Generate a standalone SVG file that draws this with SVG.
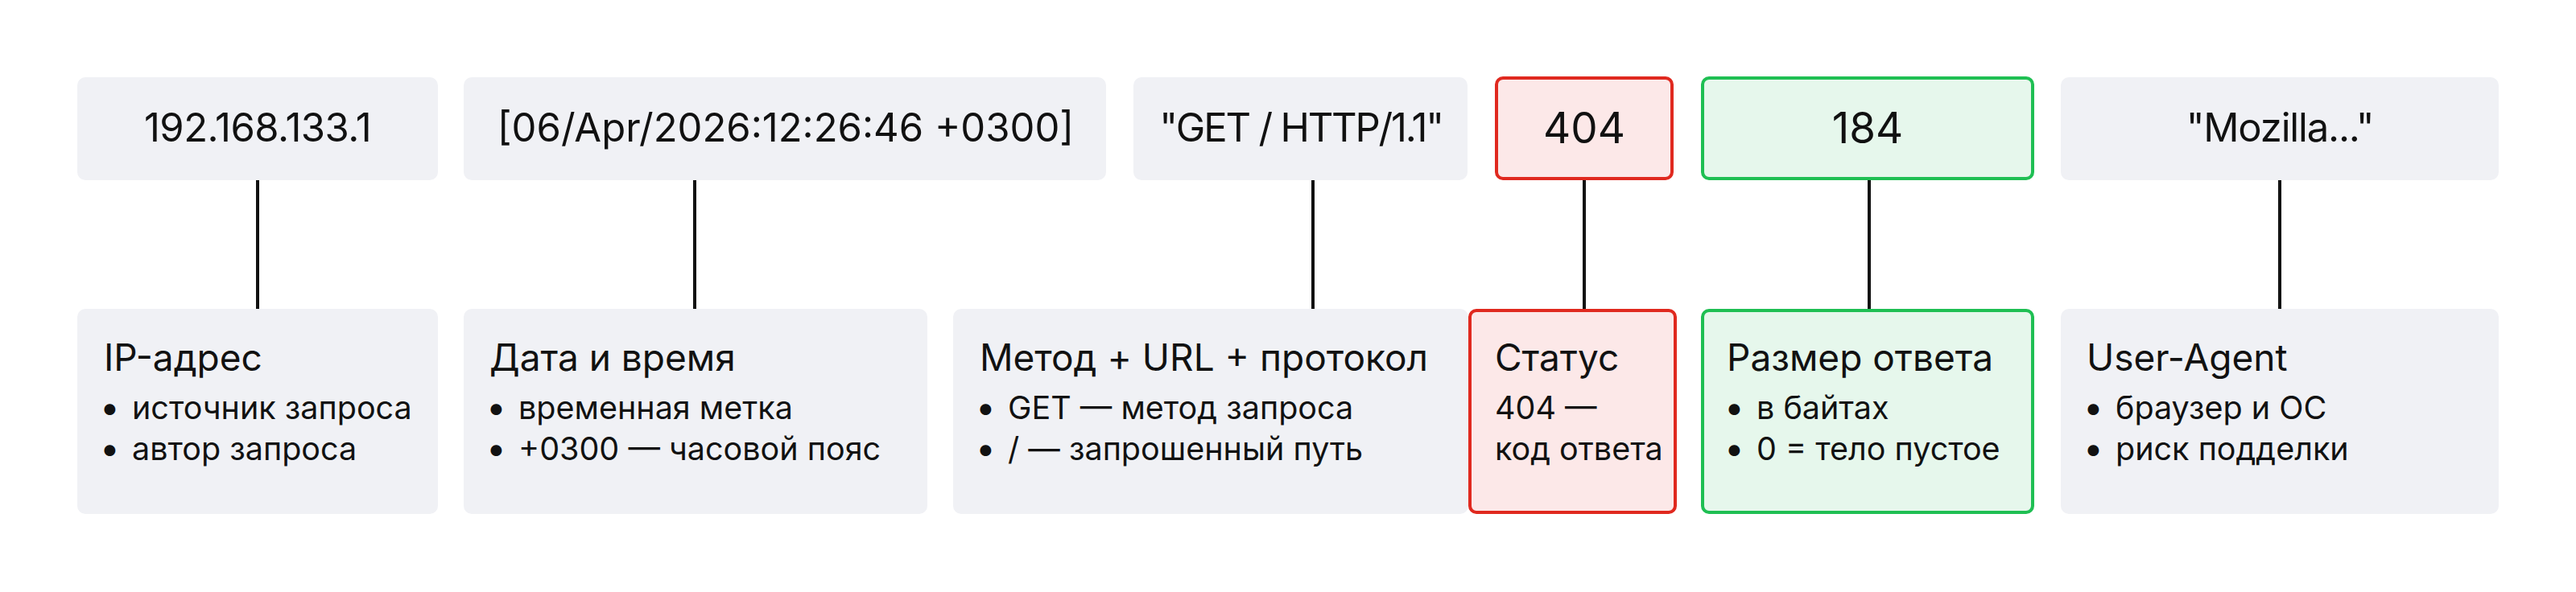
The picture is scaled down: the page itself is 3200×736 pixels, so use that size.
<svg xmlns="http://www.w3.org/2000/svg" width="3200" height="736" viewBox="0 0 3200 736">
<style>
.bg{fill:#ffffff}
.box{fill:#f0f1f5}
.red{fill:#fce8e8;stroke:#e0291f;stroke-width:4}
.green{fill:#e6f7ec;stroke:#1fbf53;stroke-width:4}
.val{font-family:Inter,"Liberation Sans",sans-serif;font-size:49px;fill:#111111;text-anchor:middle}
.num{font-size:53px}
.ttl{font-family:Inter,"Liberation Sans",sans-serif;font-size:46px;fill:#111111}
.txt{font-family:Inter,"Liberation Sans",sans-serif;font-size:39.5px;fill:#111111}
.dot{font-family:Inter,"Liberation Sans",sans-serif;font-size:44px;fill:#111111}
.conn line{stroke:#111111;stroke-width:4}
</style>
<rect class="bg" x="0" y="0" width="3200" height="736"/>
<g class="conn" id="connectors">
<line x1="320" y1="224" x2="320" y2="384"/>
<line x1="863" y1="224" x2="863" y2="384"/>
<line x1="1631" y1="224" x2="1631" y2="384"/>
<line x1="1968" y1="224" x2="1968" y2="384"/>
<line x1="2322" y1="224" x2="2322" y2="384"/>
<line x1="2832" y1="224" x2="2832" y2="384"/>
</g>
<g id="ip-value">
<rect class="box" x="96" y="96" width="448" height="128" rx="10"/>
<text class="val" x="320" y="176" letter-spacing="-0.5">192.168.133.1</text>
</g>
<g id="time-value">
<rect class="box" x="576" y="96" width="798" height="128" rx="10"/>
<text class="val" x="976" y="176">[06/Apr/2026:12:26:46 +0300]</text>
</g>
<g id="request-value">
<rect class="box" x="1408" y="96" width="415" height="128" rx="10"/>
<text class="val" x="1616" y="176" letter-spacing="-2.2">"GET / HTTP/1.1"</text>
</g>
<g id="status-value">
<rect class="red" x="1859" y="97" width="218" height="125" rx="8"/>
<text class="val num" x="1968" y="178">404</text>
</g>
<g id="size-value">
<rect class="green" x="2115" y="97" width="410" height="125" rx="8"/>
<text class="val num" x="2320" y="178">184</text>
</g>
<g id="ua-value">
<rect class="box" x="2560" y="96" width="544" height="128" rx="10"/>
<text class="val" x="2832" y="176" letter-spacing="-1.2">"Mozilla..."</text>
</g>
<g id="ip-desc">
<rect class="box" x="96" y="384" width="448" height="255" rx="10"/>
<text class="ttl" x="129" y="461">IP-адрес</text>
<text class="dot" x="124" y="522">•</text><text class="txt" x="164" y="521">источник запроса</text>
<text class="dot" x="124" y="573">•</text><text class="txt" x="164" y="572">автор запроса</text>
</g>
<g id="time-desc">
<rect class="box" x="576" y="384" width="576" height="255" rx="10"/>
<text class="ttl" x="608" y="461">Дата и время</text>
<text class="dot" x="604" y="522">•</text><text class="txt" x="644" y="521">временная метка</text>
<text class="dot" x="604" y="573">•</text><text class="txt" x="644" y="572">+0300 — часовой пояс</text>
</g>
<g id="request-desc">
<rect class="box" x="1184" y="384" width="640" height="255" rx="10"/>
<text class="ttl" x="1217" y="461">Метод + URL + протокол</text>
<text class="dot" x="1212" y="522">•</text><text class="txt" x="1252" y="521">GET — метод запроса</text>
<text class="dot" x="1212" y="573">•</text><text class="txt" x="1252" y="572">/ — запрошенный путь</text>
</g>
<g id="status-desc">
<rect class="red" x="1826" y="386" width="255" height="251" rx="8"/>
<text class="ttl" x="1857" y="461">Статус</text>
<text class="txt" x="1857" y="521">404 —</text>
<text class="txt" x="1857" y="572">код ответа</text>
</g>
<g id="size-desc">
<rect class="green" x="2115" y="386" width="410" height="251" rx="8"/>
<text class="ttl" x="2145" y="461">Размер ответа</text>
<text class="dot" x="2142" y="522">•</text><text class="txt" x="2182" y="521">в байтах</text>
<text class="dot" x="2142" y="573">•</text><text class="txt" x="2182" y="572">0 = тело пустое</text>
</g>
<g id="ua-desc">
<rect class="box" x="2560" y="384" width="544" height="255" rx="10"/>
<text class="ttl" x="2592" y="461">User-Agent</text>
<text class="dot" x="2588" y="522">•</text><text class="txt" x="2628" y="521">браузер и ОС</text>
<text class="dot" x="2588" y="573">•</text><text class="txt" x="2628" y="572">риск подделки</text>
</g>
</svg>
